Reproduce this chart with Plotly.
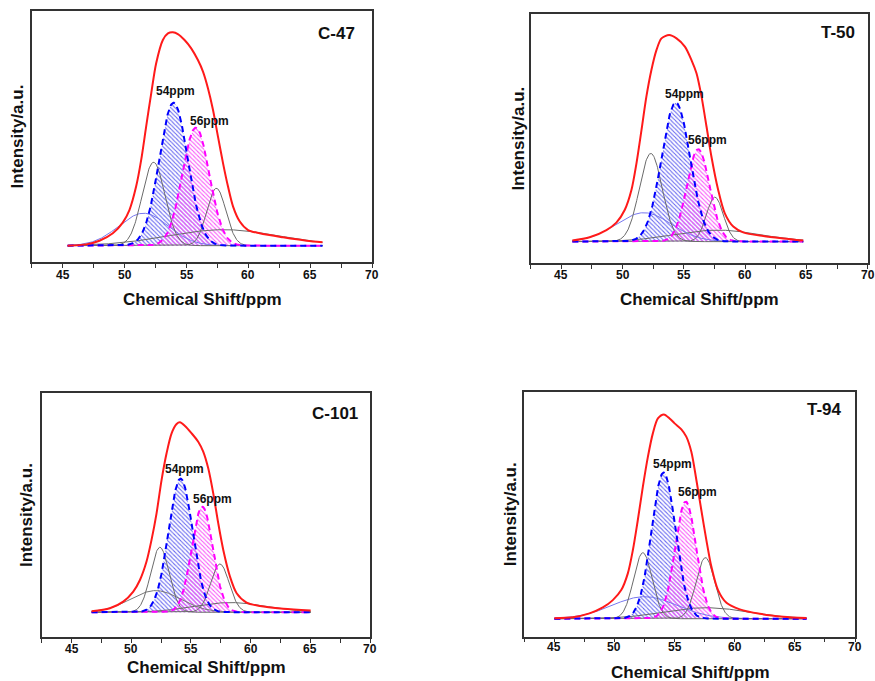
import numpy as np
import plotly.graph_objects as go

W, H = 875, 681
FONT = "Liberation Sans, Arial, sans-serif"

panel_names = ["C-47", "T-50", "C-101", "T-94"]

# Measured 13C NMR envelopes (chemical shift in ppm, normalised intensity)
c47_shift = [45.40, 46.89, 47.97, 49.05, 49.85, 50.39, 50.93, 51.34, 51.74, 52.15, 52.55,
             53.09, 53.50, 53.90, 54.30, 54.84, 55.38, 55.92, 56.33, 56.73, 57.14, 57.54,
             57.95, 58.35, 58.76, 59.30, 59.97, 60.91, 62.80, 64.69, 65.98]
c47_intensity = [0.000, 0.006, 0.023, 0.058, 0.108, 0.167, 0.277, 0.402, 0.558, 0.714, 0.855,
                 0.964, 0.995, 1.000, 0.992, 0.964, 0.925, 0.870, 0.816, 0.738, 0.636, 0.511,
                 0.386, 0.277, 0.183, 0.113, 0.073, 0.058, 0.039, 0.023, 0.016]

t50_shift = [45.90, 47.31, 48.68, 49.49, 50.17, 50.72, 51.13, 51.54, 51.94, 52.35, 52.76,
             53.17, 53.80, 54.40, 55.08, 55.62, 56.03, 56.44, 56.85, 57.25, 57.80, 58.34,
             59.03, 59.84, 61.48, 63.11, 64.74]
t50_intensity = [0.005, 0.021, 0.056, 0.092, 0.153, 0.250, 0.379, 0.540, 0.702, 0.831, 0.927,
                 0.984, 1.000, 0.984, 0.944, 0.879, 0.815, 0.702, 0.556, 0.411, 0.250, 0.137,
                 0.073, 0.045, 0.027, 0.015, 0.005]

c101_shift = [46.68, 48.21, 49.33, 50.17, 50.73, 51.28, 51.70, 52.12, 52.54, 52.96, 53.38,
              53.80, 54.08, 54.50, 55.06, 55.61, 56.03, 56.45, 56.87, 57.29, 57.71, 58.27,
              58.83, 59.66, 60.78, 62.74, 65.03]
c101_intensity = [0.005, 0.021, 0.056, 0.109, 0.170, 0.267, 0.381, 0.521, 0.696, 0.837, 0.942,
                  0.991, 1.000, 0.981, 0.942, 0.898, 0.846, 0.758, 0.626, 0.468, 0.328, 0.188,
                  0.100, 0.051, 0.033, 0.019, 0.009]

t94_shift = [45.00, 46.53, 47.92, 49.03, 49.86, 50.56, 51.11, 51.53, 51.94, 52.36, 52.78,
             53.19, 53.61, 54.11, 54.58, 55.00, 55.56, 55.97, 56.39, 56.81, 57.22, 57.64,
             58.06, 58.61, 59.31, 60.42, 62.08, 64.03, 65.97]
t94_intensity = [0.002, 0.007, 0.026, 0.055, 0.091, 0.140, 0.222, 0.336, 0.483, 0.646, 0.793,
                 0.907, 0.980, 1.000, 0.980, 0.956, 0.927, 0.891, 0.817, 0.679, 0.532, 0.385,
                 0.254, 0.140, 0.078, 0.046, 0.024, 0.010, 0.003]

# Gaussian deconvolution: [54 ppm, 56 ppm, ~52.4, ~57.5, broad low-field, broad high-field]
c47_centers = [53.95, 55.75, 52.34, 57.41, 51.53, 58.0]
c47_heights = [0.670, 0.553, 0.391, 0.269, 0.152, 0.075]
c47_sigmas = [1.15, 1.09, 0.92, 0.77, 2.0, 4.5]

t50_centers = [54.34, 56.17, 52.30, 57.53, 51.73, 57.7]
t50_heights = [0.673, 0.447, 0.427, 0.215, 0.140, 0.056]
t50_sigmas = [1.16, 0.93, 0.93, 0.69, 2.25, 3.5]

c101_centers = [54.13, 55.95, 52.40, 57.43, 52.04, 58.3]
c101_heights = [0.704, 0.556, 0.342, 0.254, 0.114, 0.051]
c101_sigmas = [1.01, 0.89, 0.77, 0.77, 2.1, 3.0]

t94_centers = [54.08, 55.92, 52.36, 57.56, 52.5, 57.64]
t94_heights = [0.715, 0.573, 0.323, 0.299, 0.108, 0.054]
t94_sigmas = [1.0, 0.88, 0.77, 0.77, 2.7, 3.5]

peak_labels = ["54ppm", "56ppm"]

x_ticks = [45, 50, 55, 60, 65, 70]

envelopes = [(c47_shift, c47_intensity), (t50_shift, t50_intensity),
             (c101_shift, c101_intensity), (t94_shift, t94_intensity)]
fits = [(c47_centers, c47_heights, c47_sigmas), (t50_centers, t50_heights, t50_sigmas),
        (c101_centers, c101_heights, c101_sigmas), (t94_centers, t94_heights, t94_sigmas)]

# ---- layout geometry (pixels) ----
frames = [(31.7, 372.3, 11.0, 262.3), (530.7, 867.7, 14.0, 263.3),
          (41.7, 370.0, 393.3, 637.3), (524.3, 855.0, 391.7, 636.7)]
y_ranges = [(-0.078, 1.100), (-0.105, 1.102), (-0.132, 1.153), (-0.088, 1.111)]
ytitle_pos = [(17, 136.5), (519, 138.6), (26.7, 515.3), (510, 514.2)]
xtitle_pos = [(202, 299), (699, 299), (206, 667.3), (690, 672.3)]
ticklabel_y = [275, 275.5, 648.5, 647]
name_pos = [(356.7, 34), (856.7, 32), (360, 413.3), (844, 409.3)]
label_pos = [[(54.1, 0.727), (56.87, 0.584)], [(55.08, 0.715), (56.90, 0.492)],
             [(54.50, 0.753), (56.82, 0.598)], [(54.86, 0.757), (56.94, 0.618)]]
broad_colors = ["#7777ee", "#7777ee", "#777777", "#7777ee"]


def px(x):
    return x / W


def py(y):
    return 1 - y / H


def gauss(x, c, h, s):
    return h * np.exp(-((x - c) ** 2) / (2 * s ** 2))


fig = go.Figure()
annotations = []
layout = {}

for i in range(4):
    k = i + 1
    xa, ya = f"x{k}", f"y{k}"
    shift, inten = envelopes[i]
    centers, heights, sigmas = fits[i]
    xs = np.linspace(shift[0], shift[-1], 500)
    comps = [gauss(xs, c, h, s) for c, h, s in zip(centers, heights, sigmas)]

    # hatched areas of the two assigned peaks
    for j, col in [(0, "rgb(105,105,240)"), (1, "rgb(248,90,248)")]:
        fig.add_trace(go.Scatter(
            x=xs, y=comps[j], xaxis=xa, yaxis=ya, mode="lines",
            line=dict(width=0), fill="tozeroy", fillcolor="rgba(0,0,0,0)",
            fillpattern=dict(shape="\\", fgcolor=col, size=3, solidity=0.35,
                             fillmode="replace"),
            showlegend=False, hoverinfo="skip"))

    # thin component lines
    for j in [5, 4, 2, 3]:
        color = broad_colors[i] if j == 4 else "#6a6a6a"
        fig.add_trace(go.Scatter(
            x=xs, y=comps[j], xaxis=xa, yaxis=ya, mode="lines",
            line=dict(color=color, width=1), showlegend=False, hoverinfo="skip"))

    # dashed outlines of the assigned peaks
    fig.add_trace(go.Scatter(
        x=xs, y=comps[1], xaxis=xa, yaxis=ya, mode="lines",
        line=dict(color="#ff00ff", width=2, dash="6px,4px"),
        showlegend=False, hoverinfo="skip"))
    fig.add_trace(go.Scatter(
        x=xs, y=comps[0], xaxis=xa, yaxis=ya, mode="lines",
        line=dict(color="#0000ff", width=2, dash="6px,4px"),
        showlegend=False, hoverinfo="skip"))

    # experimental envelope
    fig.add_trace(go.Scatter(
        x=shift, y=inten, xaxis=xa, yaxis=ya, mode="lines",
        line=dict(color="#ff1a1a", width=2, shape="spline", smoothing=0.8),
        showlegend=False, hoverinfo="skip"))

    x0, x1, y0, y1 = frames[i]
    axis_common = dict(showline=True, linecolor="#333333", linewidth=1.5, mirror=True,
                       showgrid=False, zeroline=False)
    layout[f"xaxis{k}"] = dict(
        domain=[px(x0), px(x1)], range=[42.5, 70], anchor=ya,
        tickmode="array", tickvals=x_ticks, showticklabels=False,
        ticks="outside", ticklen=4, tickwidth=1.2, tickcolor="#333333",
        minor=dict(tickmode="linear", tick0=42.5, dtick=2.5, ticks="outside",
                   ticklen=4, tickwidth=1.2, tickcolor="#333333"),
        **axis_common)
    layout[f"yaxis{k}"] = dict(
        domain=[py(y1), py(y0)], range=list(y_ranges[i]), anchor=xa,
        showticklabels=False, ticks="", **axis_common)

    # bold tick labels along the shift axis
    for t in x_ticks:
        annotations.append(dict(text=f"<b>{t}</b>", x=t, y=py(ticklabel_y[i]),
                                xref=xa, yref="paper", showarrow=False,
                                xanchor="center", yanchor="middle",
                                font=dict(family=FONT, size=12, color="#111111")))

    tx, ty = ytitle_pos[i]
    annotations.append(dict(text="<b>Intensity/a.u.</b>", x=px(tx), y=py(ty),
                            xref="paper", yref="paper", showarrow=False, textangle=-90,
                            xanchor="center", yanchor="middle",
                            font=dict(family=FONT, size=17, color="#111111")))
    tx, ty = xtitle_pos[i]
    annotations.append(dict(text="<b>Chemical Shift/ppm</b>", x=px(tx), y=py(ty),
                            xref="paper", yref="paper", showarrow=False,
                            xanchor="center", yanchor="middle",
                            font=dict(family=FONT, size=17, color="#111111")))
    tx, ty = name_pos[i]
    annotations.append(dict(text=f"<b>{panel_names[i]}</b>", x=px(tx), y=py(ty),
                            xref="paper", yref="paper", showarrow=False,
                            xanchor="right", yanchor="middle",
                            font=dict(family=FONT, size=17, color="#111111")))
    for lbl, (lx, ly) in zip(peak_labels, label_pos[i]):
        annotations.append(dict(text=f"<b>{lbl}</b>", x=lx, y=ly, xref=xa, yref=ya,
                                showarrow=False, xanchor="center", yanchor="middle",
                                font=dict(family=FONT, size=12, color="#111111")))

fig.update_layout(width=W, height=H, margin=dict(l=0, r=0, t=0, b=0),
                  paper_bgcolor="white", plot_bgcolor="white",
                  annotations=annotations, showlegend=False, **layout)

fig.write_html("out.html")
